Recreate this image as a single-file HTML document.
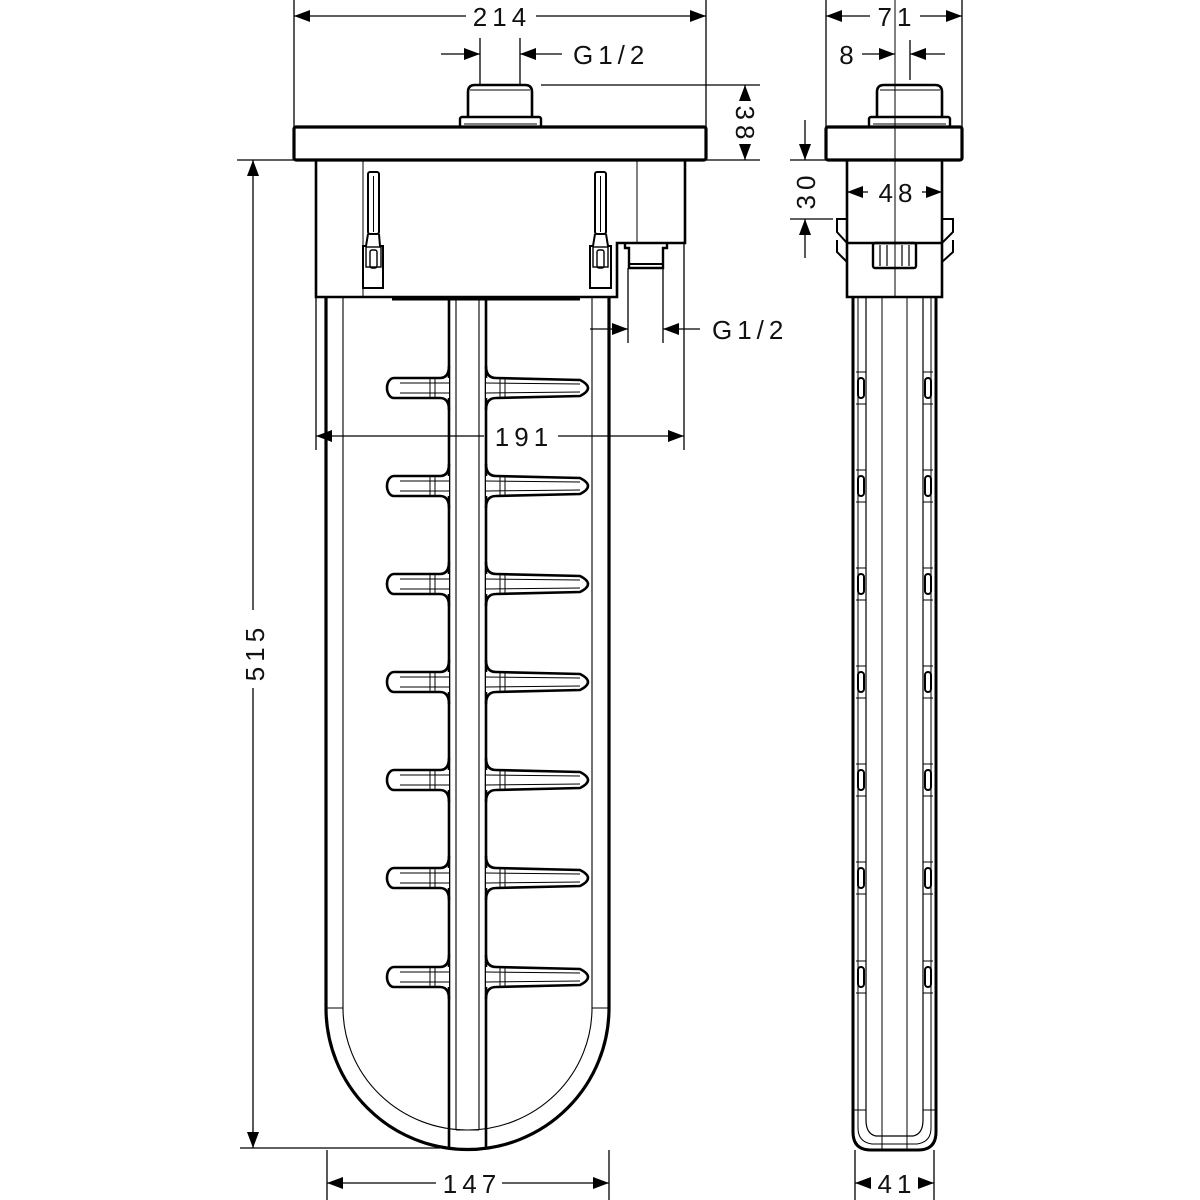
<!DOCTYPE html>
<html><head><meta charset="utf-8"><style>
html,body{margin:0;padding:0;background:#fff}
svg{display:block}
text{font-family:"Liberation Sans",sans-serif;font-size:26px;fill:#111;letter-spacing:5px}
</style></head><body>
<svg width="1200" height="1200" viewBox="0 0 1200 1200" xmlns="http://www.w3.org/2000/svg">
<defs>
<g id="fin">
<path d="M449,-10 L394,-10 A7,10 0 0 0 394,10 L449,10 Z" fill="#fff"/>
<path d="M486,-10 L580,-8 Q596,0 580,8 L486,10 Z" fill="#fff"/>
<path d="M449,-22 Q449,-10 440,-10 L394,-10 A7,10 0 0 0 394,10 L440,10 Q449,10 449,22" fill="none" stroke="#000" stroke-width="2.6"/>
<path d="M486,-22 Q486,-10 496,-10 L580,-8 Q596,0 580,8 L496,10 Q486,10 486,22" fill="none" stroke="#000" stroke-width="2.6"/>
<path d="M400,-5 L449,-5 M400,5 L449,5 M486,-5 L580,-4 M486,5 L580,4 M430,-10 V10 M435,-10 V10 M500,-10 V10 M505,-10 V10" stroke="#000" stroke-width="1"/>
</g>
<g id="dot">
<rect x="-3" y="-10" width="6" height="20" rx="3" fill="#fff" stroke="#000" stroke-width="2"/>
<path d="M-5,-16 H5 M-5,16 H5" stroke="#000" stroke-width="1"/>
</g>
</defs>

<g stroke="#000" fill="none">
<path d="M468,117 V92 Q468,85 475,85 H525 Q532,85 532,92 V117" stroke-width="2.6"/>
<line x1="470" y1="90" x2="530" y2="90" stroke-width="1"/>
<rect x="460" y="117" width="81" height="10" rx="2" stroke-width="2.4"/>
<line x1="464" y1="124" x2="537" y2="124" stroke-width="1"/>
<rect x="294" y="127" width="412" height="33" rx="2" stroke-width="3.2"/>
<path d="M316,160 V297 H617 V243 H685 V160" stroke-width="2.6"/>
<line x1="363" y1="160" x2="363" y2="297" stroke-width="1"/>
<line x1="637" y1="160" x2="637" y2="243" stroke-width="1"/>
<path d="M392,299 H580" stroke-width="3"/>
<path d="M625,243 V248 H629 V268 H663 V248 H667 V243" stroke-width="2.4"/>
<line x1="629" y1="264" x2="663" y2="264" stroke-width="2"/>
<g stroke-width="2">
<rect x="368" y="172" width="11" height="62" rx="2"/><line x1="373.5" y1="176" x2="373.5" y2="232" stroke-width="1"/>
<path d="M368,234 L366,246 H363 V288 H383 V246 H380 L379,234"/>
<rect x="366" y="247" width="15" height="20" stroke-width="1.4"/><rect x="370" y="250" width="7" height="18" rx="2" stroke-width="1.4"/>
<rect x="595" y="172" width="11" height="62" rx="2"/><line x1="600.5" y1="176" x2="600.5" y2="232" stroke-width="1"/>
<path d="M595,234 L593,246 H590 V288 H611 V246 H608 L606,234"/>
<rect x="593" y="247" width="15" height="20" stroke-width="1.4"/><rect x="597" y="250" width="7" height="18" rx="2" stroke-width="1.4"/>
</g>
<path d="M326,297 V1008 A141,141 0 0 0 609,1008 V297" stroke-width="3.2"/>
<path d="M343,297 V1008 A124.5,122 0 0 0 592,1008 V297" stroke-width="1.1"/>
<path d="M326,1008 H343 M592,1008 H609" stroke-width="1"/>
<path d="M449,299 V1147 M486,299 V1147" stroke-width="2.6"/>
<path d="M456,299 V1130 M479,299 V1130" stroke-width="1.1"/>
<path d="M456,1130 H479" stroke-width="1"/>
</g>
<use href="#fin" transform="translate(0,388)"/>
<use href="#fin" transform="translate(0,486)"/>
<use href="#fin" transform="translate(0,584)"/>
<use href="#fin" transform="translate(0,682)"/>
<use href="#fin" transform="translate(0,780)"/>
<use href="#fin" transform="translate(0,878)"/>
<use href="#fin" transform="translate(0,977)"/>

<g stroke="#000" stroke-width="1.3" fill="none">
<path d="M294,0 V127 M706,0 V127"/>
<path d="M294,16 H466 M536,16 H706"/>
<path d="M480,38 V85 M520,38 V85 M441,54 H480 M520,54 H562"/>
<path d="M541,85 H760 M706,160 H760 M745,85 V100 M745,146 V160"/>
<path d="M237,160 H294 M240,1148 H440 M253,160 V610 M253,688 V1148"/>
<path d="M327,1150 V1200 M609,1150 V1200 M327,1183 H436 M502,1183 H609"/>
<path d="M316,297 V450 M684,243 V450 M316,436 H484 M558,436 H684"/>
<path d="M628,268 V343 M663,268 V343 M590,329 H628 M663,329 H700"/>
</g>
<g fill="#000">
<polygon points="294,16 310,10 310,22"/><polygon points="706,16 690,10 690,22"/>
<polygon points="480,54 464,48 464,60"/><polygon points="520,54 536,48 536,60"/>
<polygon points="745,85 739,101 751,101"/><polygon points="745,160 739,144 751,144"/>
<polygon points="253,160 247,176 259,176"/><polygon points="253,1148 247,1132 259,1132"/>
<polygon points="327,1183 343,1177 343,1189"/><polygon points="609,1183 593,1177 593,1189"/>
<polygon points="316,436 332,430 332,442"/><polygon points="684,436 668,430 668,442"/>
<polygon points="628,329 612,323 612,335"/><polygon points="663,329 679,323 679,335"/>
</g>
<text x="502" y="26" text-anchor="middle">214</text>
<text x="573" y="64">G1/2</text>
<text x="712" y="339">G1/2</text>
<text x="524" y="446" text-anchor="middle">191</text>
<text x="472" y="1193" text-anchor="middle">147</text>
<text transform="translate(264,652) rotate(-90)" text-anchor="middle">515</text>
<text transform="translate(736,125) rotate(90)" text-anchor="middle">38</text>

<g stroke="#000" fill="none">
<path d="M877,117 V92 Q877,85 884,85 H935 Q942,85 942,92 V117" stroke-width="2.6"/>
<line x1="880" y1="90" x2="940" y2="90" stroke-width="1"/>
<rect x="869" y="117" width="81" height="10" rx="2" stroke-width="2.4"/>
<line x1="873" y1="124" x2="946" y2="124" stroke-width="1"/>
<rect x="826" y="127" width="136" height="33" rx="2" stroke-width="3.2"/>
<path d="M847,160 V297 H942 V160" stroke-width="2.6"/>
<line x1="847" y1="243" x2="942" y2="243" stroke-width="2.4"/>
<path d="M847,219 H837 V232 L847,243 M837,240 V252 L847,262" stroke-width="2"/>
<path d="M942,219 H953 V232 L942,243 M953,240 V252 L942,262" stroke-width="2"/>
<rect x="873" y="243" width="43" height="25" rx="2" stroke-width="2.4"/>
<path d="M880,245 V266 M887,245 V266 M902,245 V266 M909,245 V266" stroke-width="1.2"/>
<line x1="895" y1="0" x2="895" y2="297" stroke-width="1"/>
<path d="M853,297 V1132 Q853,1150 871,1150 H918 Q936,1150 936,1132 V297" stroke-width="3"/>
<path d="M858,297 V1128 Q858,1142 872,1144 H917 Q931,1142 931,1128 V297" stroke-width="1"/>
<path d="M866,297 V1120 Q866,1134 876,1136 H913 Q923,1134 923,1120 V297" stroke-width="1.2"/>
<path d="M882,297 V1150 M907,297 V1150" stroke-width="1"/>
<path d="M853,1110 H866 M923,1110 H936" stroke-width="1"/>
</g>
<g>
<use href="#dot" transform="translate(861,388)"/><use href="#dot" transform="translate(928,388)"/>
<use href="#dot" transform="translate(861,486)"/><use href="#dot" transform="translate(928,486)"/>
<use href="#dot" transform="translate(861,584)"/><use href="#dot" transform="translate(928,584)"/>
<use href="#dot" transform="translate(861,682)"/><use href="#dot" transform="translate(928,682)"/>
<use href="#dot" transform="translate(861,780)"/><use href="#dot" transform="translate(928,780)"/>
<use href="#dot" transform="translate(861,878)"/><use href="#dot" transform="translate(928,878)"/>
<use href="#dot" transform="translate(861,977)"/><use href="#dot" transform="translate(928,977)"/>
</g>
<g stroke="#000" stroke-width="1.3" fill="none">
<path d="M826,0 V127 M962,0 V127 M826,16 H870 M920,16 H962"/>
<path d="M910,40 V80 M862,54 H895 M910,54 H945"/>
<path d="M790,160 H826 M790,219 H833 M805,120 V160 M805,219 V258"/>
<path d="M847,192 H868 M922,192 H942"/>
<path d="M855,1150 V1200 M934,1150 V1200 M855,1183 H870 M920,1183 H934"/>
</g>
<g fill="#000">
<polygon points="826,16 842,10 842,22"/><polygon points="962,16 946,10 946,22"/>
<polygon points="895,54 879,48 879,60"/><polygon points="910,54 926,48 926,60"/>
<polygon points="805,160 799,144 811,144"/><polygon points="805,219 799,235 811,235"/>
<polygon points="847,192 863,186 863,198"/><polygon points="942,192 926,186 926,198"/>
<polygon points="855,1183 871,1177 871,1189"/><polygon points="934,1183 918,1177 918,1189"/>
</g>
<text x="897" y="26" text-anchor="middle">71</text>
<text x="849" y="64" text-anchor="middle">8</text>
<text x="898" y="202" text-anchor="middle">48</text>
<text x="897" y="1193" text-anchor="middle">41</text>
<text transform="translate(815,190) rotate(-90)" text-anchor="middle">30</text>
</svg>
</body></html>
